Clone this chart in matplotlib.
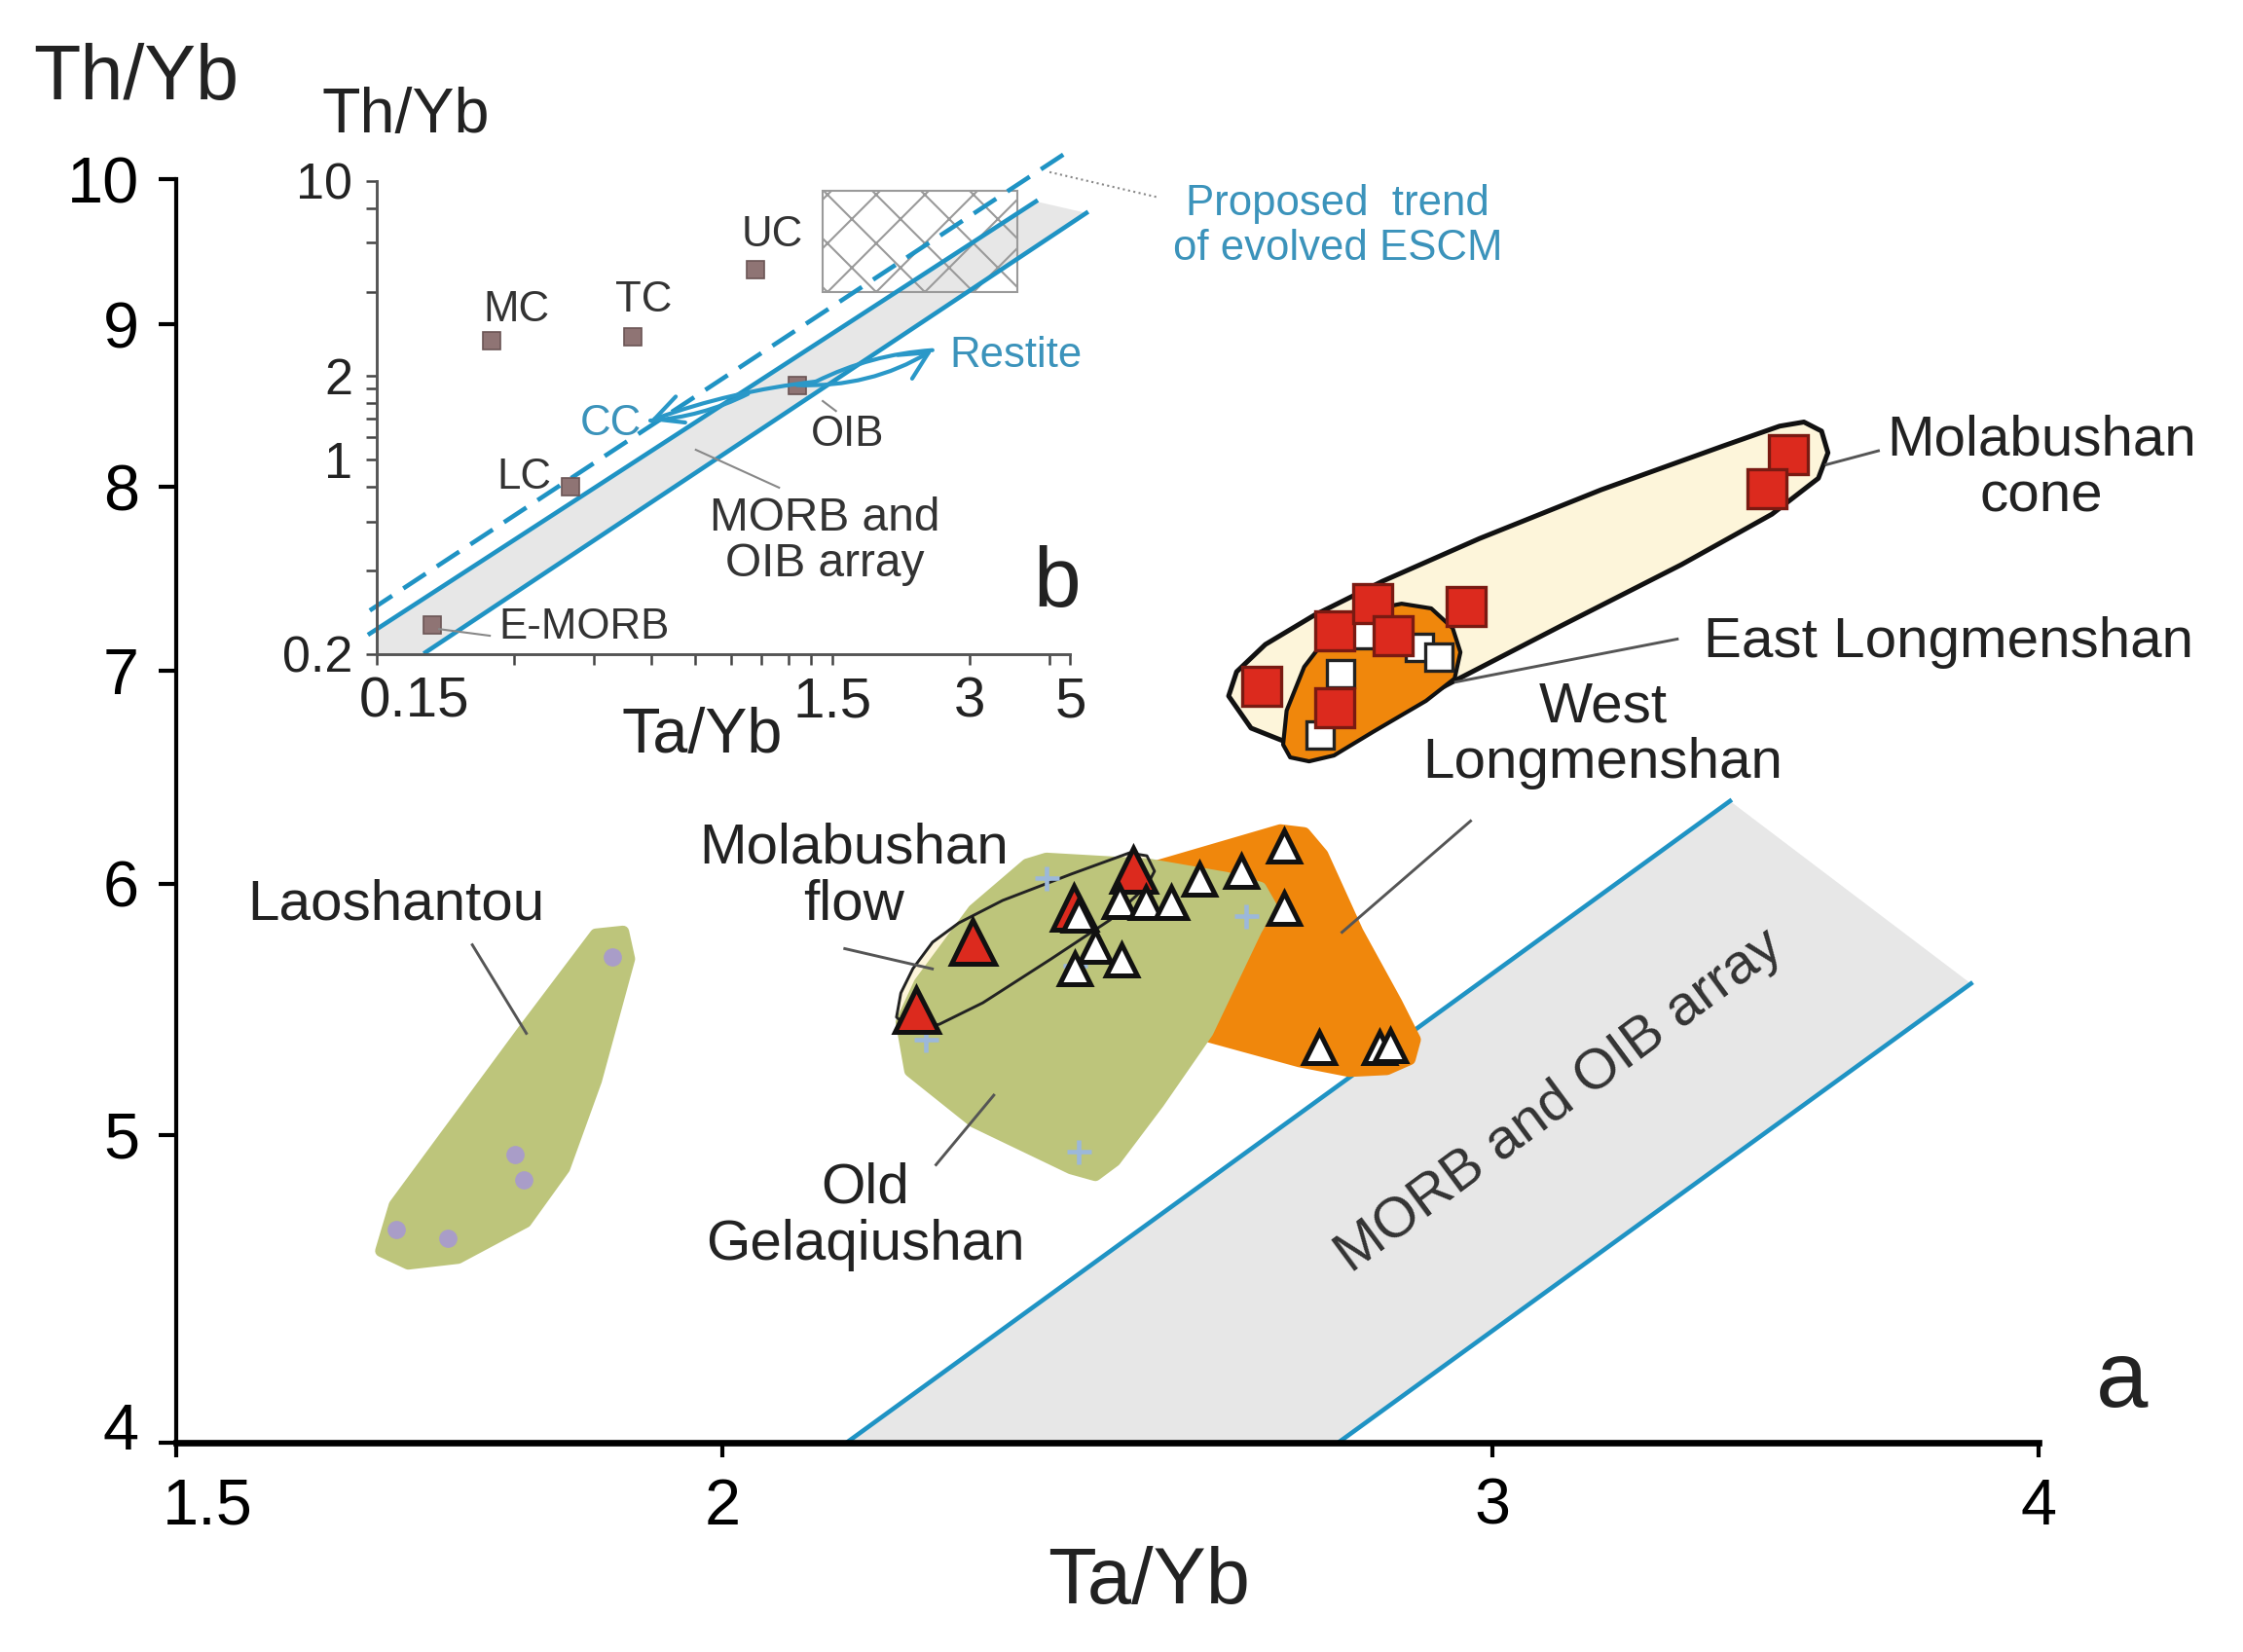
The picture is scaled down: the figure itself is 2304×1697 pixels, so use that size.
import matplotlib
matplotlib.use('Agg')
import matplotlib.pyplot as plt
from matplotlib.patches import Polygon, Rectangle
from matplotlib.ticker import FixedLocator, FixedFormatter, NullLocator
from matplotlib.transforms import ScaledTranslation

plt.rcParams['font.family'] = ['Liberation Sans', 'DejaVu Sans']
plt.rcParams['hatch.linewidth'] = 0.5

# ---------------- data: main diagram (a) ----------------
x_ticks = [1.5, 2, 3, 4]
y_ticks = [4, 5, 6, 7, 8, 9, 10]

# MORB-OIB array (Ta/Yb, Th/Yb)
array_upper = [(2.135, 4.0), (3.40, 6.37)]
array_lower = [(2.766, 4.0), (3.86, 5.58)]

laoshantou_field = [(1.671, 4.597), (1.683, 4.752), (1.800, 5.388), (1.871, 5.782), (1.898, 5.794),
                    (1.904, 5.681), (1.871, 5.201), (1.840, 4.881), (1.803, 4.695), (1.740, 4.574),
                    (1.695, 4.555)]
laoshantou_x = [1.887, 1.793, 1.801, 1.684, 1.731]
laoshantou_y = [5.69, 4.93, 4.84, 4.67, 4.64]

gelaqiushan_field = [(2.198, 5.426), (2.208, 5.238), (2.283, 5.049), (2.403, 4.881), (2.434, 4.857),
                     (2.459, 4.908), (2.516, 5.118), (2.582, 5.388), (2.649, 5.802), (2.669, 5.906),
                     (2.655, 5.981), (2.608, 6.024), (2.503, 6.083), (2.372, 6.109), (2.348, 6.083),
                     (2.283, 5.885), (2.219, 5.582)]
gelaqiushan_x = [2.372, 2.226, 2.413, 2.635, 2.408]
gelaqiushan_y = [6.024, 5.358, 4.940, 5.860, 5.653]

west_field = [(2.384, 5.562), (2.415, 5.990), (2.514, 6.075), (2.683, 6.236), (2.717, 6.223),
              (2.743, 6.127), (2.794, 5.794), (2.852, 5.503), (2.880, 5.358), (2.872, 5.283),
              (2.838, 5.245), (2.782, 5.238), (2.710, 5.275), (2.576, 5.377), (2.465, 5.465)]
west_x = [2.413, 2.465, 2.499, 2.533, 2.571, 2.628, 2.688, 2.688, 2.434, 2.468, 2.408, 2.738, 2.827, 2.843]
west_y = [5.864, 5.923, 5.918, 5.918, 6.020, 6.054, 6.166, 5.893, 5.733, 5.677, 5.641, 5.328, 5.328, 5.335]

flow_field = [(2.192, 5.446), (2.197, 5.542), (2.211, 5.641), (2.234, 5.750), (2.265, 5.831),
              (2.318, 5.927), (2.403, 6.041), (2.478, 6.135), (2.501, 6.122), (2.511, 6.054),
              (2.501, 5.990), (2.453, 5.844), (2.378, 5.681), (2.294, 5.503), (2.242, 5.418),
              (2.208, 5.396)]
flow_x = [2.215, 2.282, 2.406, 2.483]
flow_y = [5.476, 5.754, 5.898, 6.062]

cone_field = [(2.611, 6.874), (2.622, 6.996), (2.662, 7.136), (2.731, 7.288), (2.831, 7.470),
              (2.980, 7.706), (3.177, 7.983), (3.388, 8.241), (3.490, 8.360), (3.535, 8.385),
              (3.568, 8.330), (3.580, 8.200), (3.562, 8.050), (3.476, 7.843), (3.314, 7.561),
              (3.110, 7.232), (2.948, 6.962), (2.860, 6.811), (2.774, 6.683), (2.690, 6.650),
              (2.642, 6.716)]
cone_x = [2.657, 2.761, 2.817, 2.847, 2.959, 2.761, 3.506, 3.467]
cone_y = [6.922, 7.206, 7.350, 7.181, 7.335, 6.816, 8.189, 7.989]

east_field = [(2.687, 6.636), (2.692, 6.802), (2.717, 7.021), (2.760, 7.221), (2.802, 7.309),
              (2.860, 7.350), (2.905, 7.325), (2.938, 7.221), (2.950, 7.096), (2.941, 6.962),
              (2.897, 6.850), (2.817, 6.697), (2.760, 6.584), (2.724, 6.556), (2.697, 6.575)]
east_x = [2.802, 2.769, 2.740, 2.887, 2.917]
east_y = [7.186, 6.986, 6.683, 7.121, 7.071]

# ---------------- data: inset (b) ----------------
inset_x_ticks = [0.15, 0.3, 0.45, 0.6, 0.75, 0.9, 1.05, 1.2, 1.35, 1.5, 3, 4.5, 5]
inset_x_labels = ['0.15', '', '', '', '', '', '', '', '', '1.5', '3', '', '5']
inset_y_ticks = [0.2, 0.4, 0.6, 0.8, 1, 1.2, 1.4, 1.6, 1.8, 2, 4, 6, 8, 10]
inset_y_labels = ['0.2', '', '', '', '1', '', '', '', '', '2', '', '', '', '10']

ref_names = ['MC', 'TC', 'UC', 'LC', 'OIB', 'E-MORB']
ref_x = [0.268, 0.547, 1.02, 0.40, 1.256, 0.199]
ref_y = [2.67, 2.76, 4.81, 0.80, 1.85, 0.255]

trend_dashed = [(0.1448, 0.287), (5.06, 13.1)]
array_line1 = [(0.1448, 0.237), (4.20, 8.45)]
array_line2 = [(0.192, 0.203), (5.42, 7.68)]
inset_array = [(0.15, 0.2), (0.15, 0.246), (4.20, 8.45), (5.42, 7.68), (0.19, 0.2)]
escm_box = (1.43, 4.0, 3.82, 9.2)  # x0, y0, x1, y1
cc_tip = (0.598, 1.38)
restite_tip = (2.49, 2.47)

# ---------------- colours ----------------
blue = '#1f93c4'
tblue = '#3b93bb'
green = '#bdc57b'
orange = '#f0870c'
cream = '#fdf5da'
red = '#dc2a1e'
grey_band = '#e7e7e7'

fig = plt.figure(figsize=(7.68, 5.6567), dpi=300)
ax = fig.add_axes([0.07856, 0.12669, 0.83030, 0.76488])
ax.set_xscale('log')
ax.set_yscale('log')
ax.set_xlim(1.5, 4)
ax.set_ylim(4, 10)
for s in ['top', 'right']:
    ax.spines[s].set_visible(False)
ax.spines['left'].set_linewidth(1.0)
ax.spines['bottom'].set_linewidth(1.6)
ax.xaxis.set_major_locator(FixedLocator(x_ticks))
ax.xaxis.set_major_formatter(FixedFormatter([str(v) for v in x_ticks]))
ax.yaxis.set_major_locator(FixedLocator(y_ticks))
ax.yaxis.set_major_formatter(FixedFormatter([str(v) for v in y_ticks]))
ax.xaxis.set_minor_locator(NullLocator())
ax.yaxis.set_minor_locator(NullLocator())
ax.tick_params(axis='x', direction='out', length=3.6, width=1.0, labelsize=16, pad=5)
ax.tick_params(axis='y', direction='out', length=4.3, width=1.0, labelsize=16, pad=4.8)

# MORB and OIB array
ax.add_patch(Polygon([array_upper[0], array_upper[1], array_lower[1], array_lower[0]],
                     closed=True, fc=grey_band, ec='none', zorder=1))
ax.plot(*zip(*array_upper), color=blue, lw=1.1, zorder=2)
ax.plot(*zip(*array_lower), color=blue, lw=1.1, zorder=2)
ax.text(0.743, 0.270, 'MORB and OIB array', transform=ax.transAxes, rotation=36.5,
        ha='center', va='center', fontsize=14, color='#333333')

# fields
ax.add_patch(Polygon(laoshantou_field, closed=True, fc=green, ec=green, lw=3,
                     joinstyle='round', zorder=2))
ax.add_patch(Polygon(west_field, closed=True, fc=orange, ec=orange, lw=3,
                     joinstyle='round', zorder=2))
ax.add_patch(Polygon(flow_field, closed=True, fc=cream, ec='none', zorder=2.2))
ax.add_patch(Polygon(gelaqiushan_field, closed=True, fc=green, ec=green, lw=3,
                     joinstyle='round', zorder=2.4))
ax.add_patch(Polygon(flow_field, closed=True, fc='none', ec='#222222', lw=0.7,
                     joinstyle='round', zorder=2.6))
ax.add_patch(Polygon(cone_field, closed=True, fc=cream, ec='#111111', lw=1.2,
                     joinstyle='round', zorder=2))
ax.add_patch(Polygon(east_field, closed=True, fc=orange, ec='#111111', lw=1.0,
                     joinstyle='round', zorder=2.1))

# samples
ax.plot(laoshantou_x, laoshantou_y, 'o', ms=4.5, color='#a99dc8', mec='none', zorder=3)
ax.plot(gelaqiushan_x, gelaqiushan_y, '+', ms=6, mew=1.1, color='#9cb8da', zorder=3)
ax.plot(flow_x, flow_y, '^', ms=10.8, mfc=red, mec='#111111', mew=1.2, zorder=3)
ax.plot(west_x, west_y, '^', ms=7.5, mfc='white', mec='#111111', mew=1.2, zorder=3.2)
ax.plot(east_x, east_y, 's', ms=6.7, mfc='white', mec='#222222', mew=0.8, zorder=3)
ax.plot(cone_x, cone_y, 's', ms=9.6, mfc=red, mec='#7a1a12', mew=0.8, zorder=3.1)

# labels and leaders
lab = dict(transform=ax.transAxes, ha='center', va='center', fontsize=14, color='#222222',
           linespacing=1.1, clip_on=False)
lead = dict(transform=ax.transAxes, color='#555555', lw=0.7, clip_on=False, zorder=4)
ax.text(0.118, 0.426, 'Laoshantou', **lab)
ax.plot([0.159, 0.188], [0.394, 0.324], **lead)
ax.text(0.364, 0.448, 'Molabushan\nflow', **lab)
ax.plot([0.359, 0.406], [0.391, 0.375], **lead)
ax.text(0.370, 0.179, 'Old\nGelaqiushan', **lab)
ax.plot([0.408, 0.439], [0.220, 0.275], **lead)
ax.text(0.766, 0.560, 'West\nLongmenshan', **lab)
ax.plot([0.695, 0.626], [0.492, 0.404], **lead)
ax.text(0.820, 0.633, 'East Longmenshan', **dict(lab, ha='left'))
ax.plot([0.806, 0.687], [0.636, 0.602], **lead)
ax.text(1.0016, 0.771, 'Molabushan\ncone', **lab)
ax.plot([0.914, 0.886], [0.785, 0.774], **lead)

# tick-label nudges as in the original figure
t = ax.xaxis.get_major_ticks()[0].label1
t.set_transform(t.get_transform() + ScaledTranslation(0.107, 0, fig.dpi_scale_trans))
t = ax.yaxis.get_major_ticks()[0].label1
t.set_transform(t.get_transform() + ScaledTranslation(0, 0.057, fig.dpi_scale_trans))

fig.text(0.0608, 0.952, 'Th/Yb', fontsize=19, ha='center', va='center', color='#222222')
fig.text(0.512, 0.042, 'Ta/Yb', fontsize=19.5, ha='center', va='center', color='#222222')
fig.text(0.946, 0.163, 'a', fontsize=23, ha='center', va='center', color='#222222')

# ---------------- inset (b) ----------------
ai = fig.add_axes([0.16797, 0.60401, 0.30924, 0.28639])
ai.set_xscale('log')
ai.set_yscale('log')
ai.set_xlim(0.15, 5)
ai.set_ylim(0.2, 10)
ai.patch.set_alpha(0)
for s in ['top', 'right']:
    ai.spines[s].set_visible(False)
for s in ['left', 'bottom']:
    ai.spines[s].set_linewidth(0.7)
    ai.spines[s].set_color('#555555')
ai.xaxis.set_major_locator(FixedLocator(inset_x_ticks))
ai.xaxis.set_major_formatter(FixedFormatter(inset_x_labels))
ai.yaxis.set_major_locator(FixedLocator(inset_y_ticks))
ai.yaxis.set_major_formatter(FixedFormatter(inset_y_labels))
ai.xaxis.set_minor_locator(NullLocator())
ai.yaxis.set_minor_locator(NullLocator())
ai.tick_params(axis='x', direction='out', length=2.6, width=0.6, color='#444444',
               labelsize=14, labelcolor='#222222', pad=2.9)
ai.tick_params(axis='y', direction='out', length=2.6, width=0.6, color='#444444',
               labelsize=12.5, labelcolor='#222222', pad=3.4)
t = ai.xaxis.get_major_ticks()[0].label1
t.set_transform(t.get_transform() + ScaledTranslation(0.13, 0, fig.dpi_scale_trans))

ai.add_patch(Polygon(inset_array, closed=True, fc=grey_band, ec='none', zorder=1, clip_on=False))
ai.add_patch(Rectangle((escm_box[0], escm_box[1]), escm_box[2] - escm_box[0],
                       escm_box[3] - escm_box[1], fill=False, ec='#9a9a9a', lw=0.5,
                       hatch='xx', zorder=1.5))
ai.plot(*zip(*array_line1), color=blue, lw=1.1, zorder=2, clip_on=False)
ai.plot(*zip(*array_line2), color=blue, lw=1.1, zorder=2, clip_on=False)
ai.plot(*zip(*trend_dashed), color=blue, lw=1.1, ls=(0, (6, 3)), zorder=2, clip_on=False)

ai.plot(ref_x, ref_y, 's', ms=4.3, mfc='#8f7474', mec='#6b5555', mew=0.4, zorder=3)

# CC / restite arrows, drawn as two strokes each like the original sketch
arr = dict(arrowstyle='->', color='#2a98c8', lw=1.0, mutation_scale=17, shrinkA=0, shrinkB=0)
ai.annotate('', xy=cc_tip, xytext=(ref_x[4] * 1.10, ref_y[4] * 1.03),
            arrowprops=dict(arr, connectionstyle='arc3,rad=0.06'), zorder=3)
ai.annotate('', xy=cc_tip, xytext=(ref_x[4] * 0.78, ref_y[4] * 0.93),
            arrowprops=dict(arr, arrowstyle='-', connectionstyle='arc3,rad=-0.1'), zorder=3)
ai.annotate('', xy=restite_tip, xytext=(ref_x[4], ref_y[4]),
            arrowprops=dict(arr, connectionstyle='arc3,rad=0.15'), zorder=3)
ai.annotate('', xy=restite_tip, xytext=(ref_x[4] * 1.10, ref_y[4] * 1.03),
            arrowprops=dict(arr, arrowstyle='-', connectionstyle='arc3,rad=-0.1'), zorder=3)

il = dict(transform=ai.transAxes, ha='center', va='center', fontsize=10.5, color='#333333',
          clip_on=False)
ai.text(0.202, 0.728, 'MC', **il)
ai.text(0.385, 0.747, 'TC', **il)
ai.text(0.570, 0.885, 'UC', **il)
ai.text(0.213, 0.374, 'LC', **il)
ai.text(0.678, 0.465, 'OIB', **il)
ai.text(0.299, 0.056, 'E-MORB', **il)
ai.text(0.646, 0.239, 'MORB and\nOIB array', **dict(il, fontsize=11.5, linespacing=1.05))
ai.text(0.980, 0.148, 'b', **dict(il, fontsize=21, color='#222222'))
ai.text(0.337, 0.486, 'CC', **dict(il, color=tblue))
ai.text(0.922, 0.630, 'Restite', **dict(il, color=tblue))
ai.text(1.385, 0.905, 'Proposed  trend\nof evolved ESCM', **dict(il, color=tblue, linespacing=1.15))

il_lead = dict(transform=ai.transAxes, color='#888888', lw=0.5, clip_on=False, zorder=4)
ai.plot([0.460, 0.580], [0.432, 0.352], **il_lead)
ai.plot([0.090, 0.163], [0.053, 0.039], **il_lead)
ai.plot([0.643, 0.662], [0.535, 0.514], **il_lead)
ai.plot([0.970, 1.128], [1.019, 0.965], ls=':', **il_lead)

fig.text(0.181, 0.930, 'Th/Yb', fontsize=15.5, ha='center', va='center', color='#222222')
fig.text(0.313, 0.5545, 'Ta/Yb', fontsize=15.5, ha='center', va='center', color='#222222')

fig.savefig('out.png', dpi=300)
